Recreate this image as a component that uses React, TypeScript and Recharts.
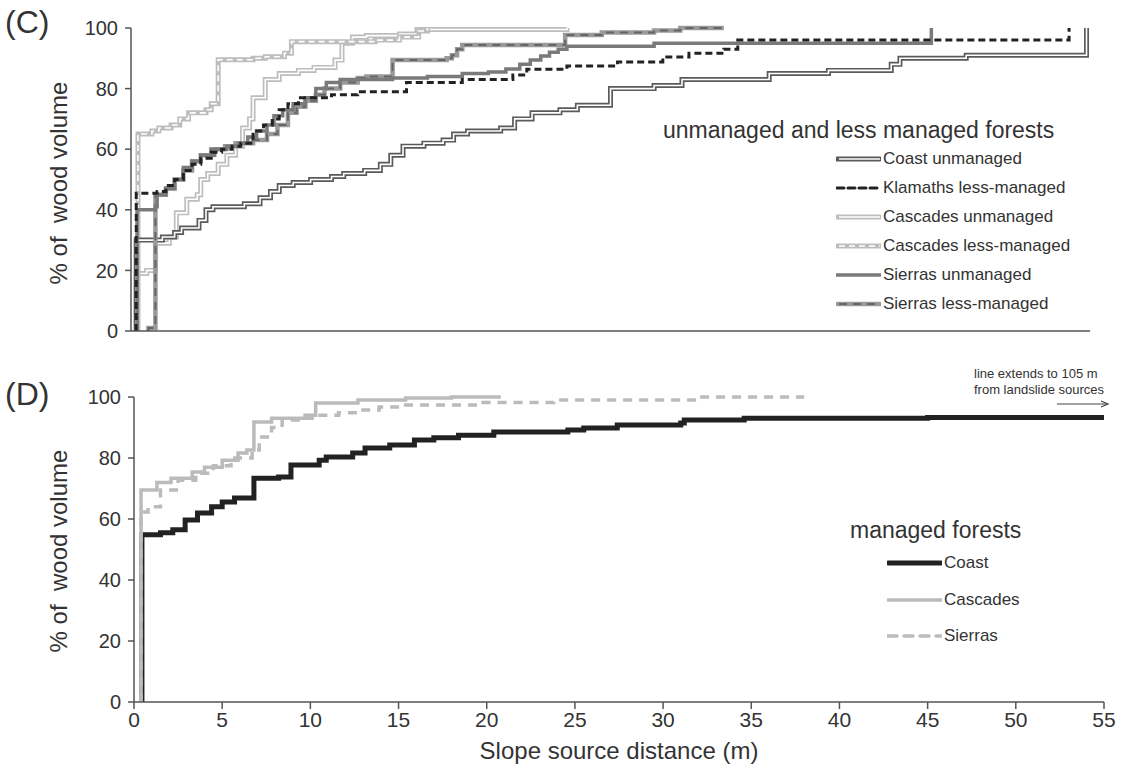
import React from 'react';
import { LineChart, Line, XAxis, YAxis, Legend, Label } from 'recharts';

type Pt = [number, number];

const xTicks = [0, 5, 10, 15, 20, 25, 30, 35, 40, 45, 50, 55];
const yTicks = [0, 20, 40, 60, 80, 100];

// (C) unmanaged and less managed forests: [slope source distance (m), cumulative % of wood volume]
const coastUnmanaged: Pt[] = [
  [0.3, 0], [0.3, 30], [1.8, 31], [2.5, 32.5], [2.9, 34], [3.9, 36.5], [4.3, 40], [4.7, 41],
  [6.5, 42], [7.4, 44], [8.0, 46], [8.5, 48], [9.3, 49], [10.3, 50], [11.5, 51], [12.2, 52],
  [13.4, 53], [14.3, 55], [14.9, 58], [15.6, 61], [16.8, 62], [17.9, 63], [18.5, 65], [19.3, 66],
  [21.2, 67], [22.0, 70], [23.0, 72], [24.6, 73], [25.6, 74.5], [27.5, 80], [30.0, 81], [31.6, 83],
  [36.6, 85], [40.0, 86], [43.6, 88], [44.1, 90], [47.9, 91], [54.8, 100],
];
const klamathsLess: Pt[] = [
  [0.3, 0], [0.3, 45.5], [1.5, 46], [2.0, 48], [2.5, 50], [3.0, 53], [3.5, 55], [4.0, 57],
  [4.6, 59], [5.2, 60], [5.8, 61], [6.3, 62], [7.0, 66], [7.6, 68], [8.1, 70], [8.5, 73],
  [9.0, 75], [9.6, 77], [11.5, 78], [13.0, 79], [15.8, 82], [19.0, 83], [21.9, 84.5], [22.7, 86.4],
  [25.0, 87.5], [27.9, 88.8], [30.5, 90.4], [32.0, 91.7], [34.0, 93], [34.8, 96], [53.8, 100],
];
const cascadesUnmanaged: Pt[] = [
  [0.3, 0], [0.3, 19], [0.9, 20], [1.4, 29], [2.2, 31], [2.6, 39], [3.2, 43.5], [3.8, 45],
  [4.0, 50], [4.4, 52], [5.0, 55], [5.5, 58], [6.0, 61], [6.4, 67], [6.8, 70], [7.0, 77],
  [7.7, 83], [8.5, 85], [9.6, 86], [10.5, 87], [11.7, 89.4], [12.1, 95], [12.7, 97], [13.5, 97.5],
  [15.4, 98], [16.4, 99.5], [25.0, 100],
];
const cascadesLess: Pt[] = [
  [0.4, 0], [0.4, 65], [1.2, 66], [1.6, 67], [2.3, 68], [2.8, 70], [3.3, 72], [4.3, 73],
  [4.6, 75], [5.0, 89.5], [7.0, 90], [7.7, 90.5], [8.8, 91.7], [9.2, 95.5], [14.0, 96],
  [15.4, 97], [16.5, 99], [17.0, 100],
];
const sierrasUnmanaged: Pt[] = [
  [0.35, 0], [0.35, 40], [1.4, 41], [1.5, 45], [2.0, 47], [2.5, 50], [3.0, 54], [3.5, 56],
  [4.0, 58], [4.8, 60], [5.5, 61], [6.2, 62], [6.7, 64], [7.2, 66], [7.8, 68], [8.2, 71],
  [8.7, 73], [9.3, 75], [10.0, 77], [10.6, 80], [11.2, 82], [12.0, 83], [15.0, 83.5], [17.0, 84],
  [19.0, 85], [20.5, 85.5], [21.5, 86.5], [22.3, 88], [22.9, 89.4], [23.5, 90.8], [24.0, 92],
  [24.5, 93], [25.0, 94], [30.0, 95], [45.9, 100],
];
const sierrasLess: Pt[] = [
  [1.0, 0], [1.0, 1], [1.4, 1], [1.4, 45], [2.0, 47], [2.5, 50], [3.0, 53], [3.5, 56],
  [4.0, 58], [4.6, 60], [5.4, 61], [6.0, 62], [7.0, 63], [7.8, 65], [8.4, 68], [9.0, 72],
  [9.5, 74], [10.0, 76], [10.6, 78], [11.1, 80], [12.0, 82], [13.0, 83.5], [13.5, 84],
  [15.0, 89.4], [18.1, 90], [18.4, 91], [18.7, 93], [19.0, 94.4], [24.9, 97.7], [27.0, 98.5],
  [30.0, 99.2], [31.5, 100], [34.0, 100],
];

// (D) managed forests
const coastManaged: Pt[] = [
  [0.45, 0], [0.45, 54.8], [1.5, 55.5], [2.2, 56.5], [2.9, 59.7], [3.6, 62], [4.4, 64], [5.0, 65.6],
  [5.7, 66.9], [6.8, 73.4], [8.2, 73.8], [8.9, 77.7], [10.5, 79.3], [10.9, 80.3], [12.4, 81.6],
  [13.1, 83.3], [14.5, 84.3], [15.9, 85.9], [17.0, 86.6], [18.4, 87.5], [20.4, 88.5], [24.6, 89.2],
  [25.5, 89.8], [27.4, 90.8], [31.0, 91.5], [31.2, 92.5], [34.6, 93], [45.0, 93.3], [55.0, 93.5],
];
const cascadesManaged: Pt[] = [
  [0.4, 0], [0.4, 69.5], [1.3, 72], [2.1, 73.4], [3.3, 75.4], [4.0, 77], [5.0, 79.3], [5.9, 81.6],
  [6.4, 82.6], [6.8, 91.8], [7.8, 93], [10.1, 94], [10.3, 98], [12.7, 99], [15.4, 99.7],
  [18.0, 100], [20.8, 100],
];
const sierrasManaged: Pt[] = [
  [0.4, 0], [0.4, 62.3], [0.8, 64], [1.5, 69.5], [2.5, 72.7], [3.5, 75], [4.5, 77.5], [5.5, 80],
  [6.7, 82.6], [7.1, 86.9], [7.8, 90], [8.4, 92.5], [9.7, 94], [11.6, 94.8], [12.7, 95.7],
  [13.9, 96.7], [15.4, 97.4], [19.8, 98.2], [23.8, 99], [32.0, 100], [38.0, 100],
];

const toRows = (pts: Pt[]) => pts.map(([x, y]) => ({ x, y }));

const FONT = "'Liberation Sans', Arial, sans-serif";
const NARROW = "'Liberation Sans Narrow', 'Liberation Sans', Arial, sans-serif";
const AXIS = '#555';

interface SeriesStyle {
  name: string;
  data: Pt[];
  stroke: string;
  width: number;
  dash?: string;
  inner?: string;
  innerWidth?: number;
  innerDash?: string;
}

const topSeries: SeriesStyle[] = [
  { name: 'Coast unmanaged', data: coastUnmanaged, stroke: '#5a5a5a', width: 5, inner: '#fff', innerWidth: 1.6 },
  { name: 'Klamaths less-managed', data: klamathsLess, stroke: '#222', width: 3, dash: '7 4' },
  { name: 'Cascades unmanaged', data: cascadesUnmanaged, stroke: '#bdbdbd', width: 5, inner: '#fff', innerWidth: 1.6 },
  { name: 'Cascades less-managed', data: cascadesLess, stroke: '#bdbdbd', width: 5, inner: '#fff', innerWidth: 1.6, innerDash: '6 4' },
  { name: 'Sierras unmanaged', data: sierrasUnmanaged, stroke: '#7a7a7a', width: 3.5 },
  { name: 'Sierras less-managed', data: sierrasLess, stroke: '#9a9a9a', width: 4.5, inner: '#666', innerWidth: 2, innerDash: '8 6' },
];
const topOrder = [2, 3, 0, 5, 4, 1];

const bottomSeries: SeriesStyle[] = [
  { name: 'Coast', data: coastManaged, stroke: '#222', width: 5 },
  { name: 'Cascades', data: cascadesManaged, stroke: '#bbb', width: 3.5 },
  { name: 'Sierras', data: sierrasManaged, stroke: '#bbb', width: 3.5, dash: '9 7' },
];

function renderSeries(s: SeriesStyle) {
  const rows = toRows(s.data);
  const out = [
    <Line
      key={s.name}
      data={rows}
      dataKey="y"
      type="stepAfter"
      stroke={s.stroke}
      strokeWidth={s.width}
      strokeDasharray={s.dash}
      dot={false}
      activeDot={false}
      legendType="none"
      isAnimationActive={false}
    />,
  ];
  if (s.inner) {
    out.push(
      <Line
        key={s.name + '-inner'}
        data={rows}
        dataKey="y"
        type="stepAfter"
        stroke={s.inner}
        strokeWidth={s.innerWidth}
        strokeDasharray={s.innerDash}
        dot={false}
        activeDot={false}
        legendType="none"
        isAnimationActive={false}
      />
    );
  }
  return out;
}

function Sample({ s, w }: { s: SeriesStyle; w: number }) {
  return (
    <svg width={w} height={12} style={{ display: 'block' }}>
      <line x1={1} y1={6} x2={w - 1} y2={6} stroke={s.stroke} strokeWidth={s.width} strokeDasharray={s.dash} strokeLinecap="round" />
      {s.inner && (
        <line x1={3} y1={6} x2={w - 1} y2={6} stroke={s.inner} strokeWidth={s.innerWidth} strokeDasharray={s.innerDash} />
      )}
    </svg>
  );
}

function LegendBox({ title, series, rowH, sampleLeft, sampleW, titleH }: {
  title: string; series: SeriesStyle[]; rowH: number; sampleLeft: number; sampleW: number; titleH: number;
}) {
  return (
    <div style={{ fontFamily: FONT, color: '#333' }}>
      <div style={{ fontSize: 23, lineHeight: `${titleH}px`, whiteSpace: 'nowrap' }}>{title}</div>
      {series.map((s) => (
        <div key={s.name} style={{ display: 'flex', alignItems: 'center', height: rowH, paddingLeft: sampleLeft }}>
          <Sample s={s} w={sampleW} />
          <span style={{ fontFamily: NARROW, fontSize: 17, marginLeft: 2, whiteSpace: 'nowrap' }}>{s.name}</span>
        </div>
      ))}
    </div>
  );
}

function YTitle({ cy }: { cy: number }) {
  const cx = 58;
  return (
    <text
      x={cx}
      y={cy}
      transform={`rotate(-90 ${cx} ${cy})`}
      textAnchor="middle"
      dominantBaseline="central"
      fontSize={24}
      fontFamily={FONT}
      fill="#333"
    >
      {'% of\u00a0 wood volume'}
    </text>
  );
}

const yTick = { fontSize: 20, fill: '#333', fontFamily: FONT };

export default function App() {
  return (
    <div style={{ position: 'absolute', left: 0, top: 0, width: 1121, height: 771, background: '#fff', fontFamily: FONT }}>
      <div style={{ position: 'absolute', left: 0, top: 0 }}>
        <LineChart width={1121} height={360} margin={{ top: 28, right: 31, left: 71, bottom: 19 }}>
          <XAxis
            type="number"
            dataKey="x"
            domain={[0, 55]}
            ticks={xTicks}
            tick={false}
            tickSize={7}
            height={10}
            allowDataOverflow
            axisLine={{ stroke: AXIS, strokeWidth: 1.5 }}
            tickLine={{ stroke: AXIS, strokeWidth: 1.5 }}
          />
          <YAxis
            type="number"
            domain={[0, 100]}
            ticks={yTicks}
            width={60}
            tickSize={6}
            tickMargin={7}
            tick={yTick}
            axisLine={{ stroke: AXIS, strokeWidth: 1.5 }}
            tickLine={{ stroke: AXIS, strokeWidth: 1.5 }}
          >
            <Label content={<YTitle cy={183} />} />
          </YAxis>
          {topOrder.map((i) => renderSeries(topSeries[i]))}
          <Legend
            layout="vertical"
            align="center"
            verticalAlign="middle"
            wrapperStyle={{ left: 663, top: 116, width: 430, height: 200 }}
            content={() => (
              <LegendBox title="unmanaged and less managed forests" series={topSeries} rowH={29} sampleLeft={173} sampleW={45} titleH={28} />
            )}
          />
        </LineChart>
      </div>

      <div style={{ position: 'absolute', left: 0, top: 370 }}>
        <LineChart width={1121} height={401} margin={{ top: 27, right: 17, left: 74, bottom: 39 }}>
          <XAxis
            type="number"
            dataKey="x"
            domain={[0, 55]}
            ticks={xTicks}
            tickSize={7}
            tickMargin={3}
            height={30}
            allowDataOverflow
            tick={{ fontSize: 21, fill: '#333', fontFamily: NARROW }}
            axisLine={{ stroke: AXIS, strokeWidth: 1.5 }}
            tickLine={{ stroke: AXIS, strokeWidth: 1.5 }}
          >
            <Label value="Slope source distance (m)" position="bottom" offset={10} style={{ fontSize: 24, fill: '#333', fontFamily: FONT }} />
          </XAxis>
          <YAxis
            type="number"
            domain={[0, 100]}
            ticks={yTicks}
            width={60}
            tickSize={6}
            tickMargin={7}
            tick={yTick}
            axisLine={{ stroke: AXIS, strokeWidth: 1.5 }}
            tickLine={{ stroke: AXIS, strokeWidth: 1.5 }}
          >
            <Label content={<YTitle cy={181} />} />
          </YAxis>
          {bottomSeries.map((s) => renderSeries(s))}
          <Legend
            layout="vertical"
            align="center"
            verticalAlign="middle"
            wrapperStyle={{ left: 850, top: 145, width: 240, height: 160 }}
            content={() => (
              <LegendBox title="managed forests" series={bottomSeries} rowH={36.5} sampleLeft={37} sampleW={55} titleH={30} />
            )}
          />
        </LineChart>
      </div>

      <div style={{ position: 'absolute', left: 5, top: 4, fontSize: 32, color: '#333' }}>(C)</div>
      <div style={{ position: 'absolute', left: 5, top: 376, fontSize: 32, color: '#333' }}>(D)</div>

      <div style={{ position: 'absolute', left: 974, top: 366, fontFamily: NARROW, fontSize: 13, lineHeight: '16px', color: '#333', whiteSpace: 'nowrap' }}>
        <div>line extends to 105 m</div>
        <div>from landslide sources</div>
      </div>
      <svg style={{ position: 'absolute', left: 1055, top: 398 }} width={60} height={12}>
        <line x1={2} y1={6} x2={52} y2={6} stroke="#444" strokeWidth={1.2} />
        <path d="M46 3 L53 6 L46 9" fill="none" stroke="#444" strokeWidth={1.2} />
      </svg>
    </div>
  );
}
